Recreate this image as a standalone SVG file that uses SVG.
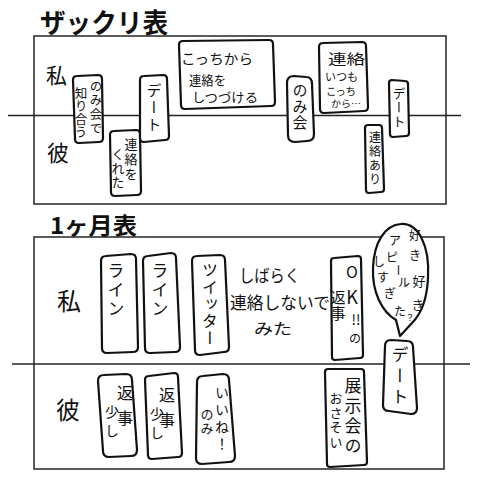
<svg xmlns="http://www.w3.org/2000/svg" width="477" height="480" viewBox="0 0 477 480">
<style>
.t{font-family:"Noto Sans CJK JP","Noto Sans",sans-serif;fill:#111;}
.v{writing-mode:vertical-rl;}
.m{text-anchor:middle;}
.box{fill:#fff;stroke:#111;stroke-width:2.2;stroke-linejoin:round;}
.panel{fill:none;stroke:#333;stroke-width:1.6;}
.axis{stroke:#222;stroke-width:1.5;}
.ttl{font-weight:bold;}
</style>
<rect width="477" height="480" fill="#fff"/>
<g id="frames">
<rect class="panel" x="34" y="36" width="412" height="168"/>
<rect class="panel" x="34" y="237" width="410" height="232"/>
<line class="axis" x1="8" y1="115.5" x2="461" y2="115.5"/>
<line class="axis" x1="12" y1="364" x2="470" y2="364"/>
</g>
<g id="titles">
<text class="t ttl" x="40" y="33" font-size="27" textLength="128" lengthAdjust="spacingAndGlyphs">ザックリ表</text>
<text class="t ttl" x="50" y="234" font-size="23" textLength="87" lengthAdjust="spacingAndGlyphs">1ヶ月表</text>
<text class="t" x="46" y="83" font-size="21">私</text>
<text class="t" x="47" y="161" font-size="22">彼</text>
<text class="t" x="57" y="310" font-size="24">私</text>
<text class="t" x="56" y="419" font-size="24">彼</text>
</g>
<g id="n-nomikai-shiriau">
<path class="box" d="M77,76 L98,75 Q102,75 102,79 L103,138 Q103,142 99,142 L79,143 Q75,143 75,139 L73,80 Q73,76 77,76 Z"/>
<text class="t v" x="96" y="80" font-size="12.5" letter-spacing="1.5">のみ会で</text>
<text class="t v" x="81" y="87" font-size="12.5" letter-spacing="0.5">知り合う</text>
</g>
<g id="n-renraku-kureta">
<path class="box" d="M114,131 L136,130 Q140,130 140,134 L141,191 Q141,195 137,195 L115,196 Q111,196 111,192 L110,135 Q110,131 114,131 Z"/>
<text class="t v" x="131" y="138" font-size="13" letter-spacing="2">連絡を</text>
<text class="t v" x="118" y="148" font-size="13" letter-spacing="1">くれた</text>
</g>
<g id="n-date1">
<path class="box" d="M144,76 L163,75 Q167,75 167,79 L169,136 Q169,140 165,140 L144,142 Q140,142 140,138 L140,80 Q140,76 144,76 Z"/>
<text class="t v" x="154" y="83" font-size="15" letter-spacing="2">デート</text>
</g>
<g id="n-kocchikara">
<path class="box" d="M183,41 L269,40 Q273,40 273,44 L275,102 Q275,106 271,106 L185,109 Q181,109 181,105 L179,45 Q179,41 183,41 Z"/>
<text class="t" x="181" y="64" font-size="14" textLength="72" lengthAdjust="spacingAndGlyphs">こっちから</text>
<text class="t" x="189" y="85" font-size="13" textLength="37" lengthAdjust="spacingAndGlyphs">連絡を</text>
<text class="t" x="192" y="102" font-size="13" textLength="66" lengthAdjust="spacingAndGlyphs">しつづける</text>
</g>
<g id="n-nomikai">
<path class="box" d="M294,76 L306,77 Q312,77 312,84 L314,134 Q314,141 307,141 L295,142 Q288,142 288,135 L287,83 Q287,76 294,76 Z"/>
<text class="t v" x="300" y="83" font-size="15" letter-spacing="1">のみ会</text>
</g>
<g id="n-renraku-itsumo">
<path class="box" d="M323,43 L362,42 Q366,42 366,46 L368,107 Q368,111 364,111 L324,113 Q320,113 320,109 L319,47 Q319,43 323,43 Z"/>
<text class="t" x="328" y="64" font-size="14" textLength="37" lengthAdjust="spacingAndGlyphs">連絡</text>
<text class="t" x="325" y="81" font-size="11" textLength="33" lengthAdjust="spacingAndGlyphs">いつも</text>
<text class="t" x="326" y="95" font-size="10.5" textLength="30" lengthAdjust="spacingAndGlyphs">こっち</text>
<text class="t" x="331" y="107" font-size="9" textLength="30" lengthAdjust="spacingAndGlyphs">から…</text>
</g>
<g id="n-date2">
<path class="box" d="M392,80 L405,81 Q408,81 408,84 L409,133 Q409,136 406,136 L393,137 Q390,137 390,134 L389,83 Q389,80 392,80 Z"/>
<text class="t v" x="399" y="87" font-size="13" letter-spacing="1">デート</text>
</g>
<g id="n-renraku-ari">
<path class="box" d="M368,125 L379,125 Q382,125 382,128 L384,189 Q384,192 381,192 L369,193 Q366,193 366,190 L365,128 Q365,125 368,125 Z"/>
<text class="t v" x="375" y="131" font-size="12" letter-spacing="2">連絡あり</text>
</g>
<g id="n-line1">
<path class="box" d="M106,256 L131,254 Q136,254 136,259 L138,347 Q138,352 133,352 L107,353 Q102,353 102,348 L101,261 Q101,256 106,256 Z"/>
<text class="t v" x="116" y="262" font-size="17" letter-spacing="2">ライン</text>
</g>
<g id="n-line2">
<path class="box" d="M148,256 L171,253 Q176,253 176,258 L180,347 Q180,352 175,352 L150,353 Q145,353 145,348 L143,261 Q143,256 148,256 Z"/>
<text class="t v" x="160" y="262" font-size="17" letter-spacing="2">ライン</text>
</g>
<g id="n-twitter">
<path class="box" d="M197,256 L220,255 Q225,255 225,260 L229,347 Q229,352 224,352 L200,355 Q195,355 195,350 L192,261 Q192,256 197,256 Z"/>
<text class="t v" x="210" y="262" font-size="16" letter-spacing="1">ツイッター</text>
</g>
<g id="n-shibaraku">
<text class="t" x="239" y="282" font-size="17" textLength="61" lengthAdjust="spacingAndGlyphs">しばらく</text>
<text class="t" x="230" y="309" font-size="17" textLength="100" lengthAdjust="spacingAndGlyphs">連絡しないで</text>
<text class="t" x="254" y="334" font-size="15" textLength="38" lengthAdjust="spacingAndGlyphs">みた</text>
</g>
<g id="n-ok">
<path class="box" d="M334,258 L358,256 Q361,256 361,259 L363,355 Q363,358 360,358 L335,360 Q332,360 332,357 L331,261 Q331,258 334,258 Z"/>
<text class="t m" x="352" y="278" font-size="16">O</text>
<text class="t m" x="352" y="304" font-size="18">K</text>
<text class="t m" x="356" y="325" font-size="14">!!</text>
<text class="t m" x="355" y="343" font-size="12">の</text>
<text class="t v" x="338" y="290" font-size="15" letter-spacing="1">返事</text>
</g>
<g id="n-bubble">
<path class="box" d="M401,224 C418,223 430,245 428,278 C427,300 420,315 412,323 L400,336 L396,320 C382,312 372,292 373,268 C374,242 385,225 401,224 Z"/>
<text class="t m" x="415" y="240" font-size="12">好</text>
<text class="t m" x="415" y="260" font-size="12">き</text>
<text class="t m" x="419" y="286" font-size="13">好</text>
<text class="t m" x="418" y="310" font-size="13">き</text>
<text class="t m" x="395" y="245" font-size="12">ア</text>
<text class="t m" x="392" y="262" font-size="12">ピ</text>
<text class="t m" x="397" y="274" font-size="12" transform="rotate(90 397 270)">ー</text>
<text class="t m" x="404" y="287" font-size="12">ル</text>
<text class="t m" x="379" y="266" font-size="12">し</text>
<text class="t m" x="383" y="282" font-size="12">す</text>
<text class="t m" x="390" y="298" font-size="12">ぎ</text>
<text class="t m" x="400" y="316" font-size="12">た</text>
<text class="t m" x="410" y="321" font-size="9">？</text>
</g>
<g id="n-date3">
<path class="box" d="M391,340 L407,341 Q413,341 413,347 L417,408 Q417,414 411,414 L389,411 Q383,411 383,405 L385,346 Q385,340 391,340 Z"/>
<text class="t v" x="400" y="346" font-size="17" letter-spacing="4">デート</text>
</g>
<g id="n-henji1">
<path class="box" d="M104,375 L126,374 Q132,374 132,380 L137,450 Q137,456 131,456 L109,457 Q103,457 103,451 L98,381 Q98,375 104,375 Z"/>
<text class="t v" x="125" y="385" font-size="16" letter-spacing="9">返事</text>
<text class="t v" x="112" y="405" font-size="14" letter-spacing="5">少し</text>
</g>
<g id="n-henji2">
<path class="box" d="M149,376 L174,373 Q178,373 178,377 L182,453 Q182,457 178,457 L152,459 Q148,459 148,455 L145,380 Q145,376 149,376 Z"/>
<text class="t v" x="167" y="387" font-size="16" letter-spacing="9">返事</text>
<text class="t v" x="157" y="407" font-size="14" letter-spacing="5">少し</text>
</g>
<g id="n-iine">
<path class="box" d="M203,376 L223,374 Q229,374 229,380 L235,456 Q235,462 229,462 L202,464 Q196,464 196,458 L197,382 Q197,376 203,376 Z"/>
<text class="t v" x="222" y="386" font-size="14" letter-spacing="3">いいね！</text>
<text class="t v" x="207" y="408" font-size="13" letter-spacing="1">のみ</text>
</g>
<g id="n-tenjikai">
<path class="box" d="M328,369 L361,369 Q364,369 364,372 L367,462 Q367,465 364,465 L330,467 Q327,467 327,464 L325,372 Q325,369 328,369 Z"/>
<text class="t v" x="353" y="377" font-size="17" letter-spacing="3">展示会の</text>
<text class="t v" x="336" y="392" font-size="13" letter-spacing="1.5">おさそい</text>
</g>
</svg>
